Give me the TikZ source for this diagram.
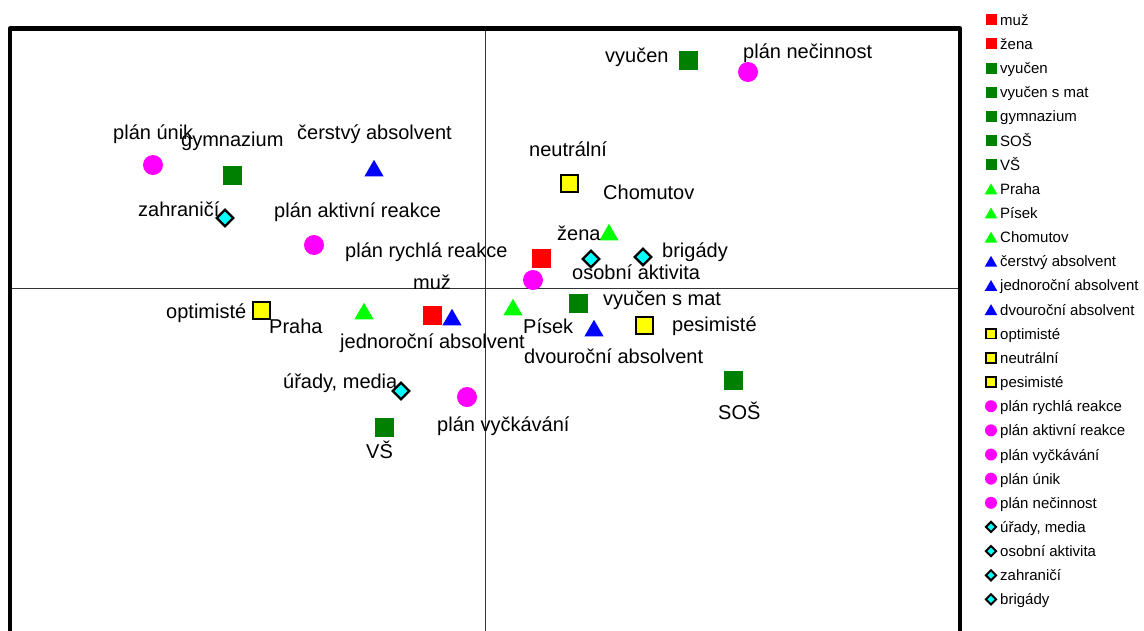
\documentclass[tikz,border=0pt]{standalone}
\usepackage{fontspec}
\setmainfont{Liberation Sans}
\usetikzlibrary{shapes.geometric}
\definecolor{cred}{RGB}{255,0,0}
\definecolor{dgreen}{RGB}{0,128,0}
\definecolor{lgreen}{RGB}{0,255,0}
\definecolor{cblue}{RGB}{0,0,255}
\definecolor{cyel}{RGB}{255,255,0}
\definecolor{cmag}{RGB}{255,0,255}
\definecolor{ccyan}{RGB}{0,255,255}
\begin{document}
\begin{tikzpicture}[x=1pt,y=-1pt,
  sq/.style={rectangle, minimum size=19, inner sep=0, fill=#1},
  tri/.style={regular polygon, regular polygon sides=3, minimum size=22, inner sep=0, fill=#1, yshift=-2.75pt},
  circ/.style={circle, minimum size=20, inner sep=0, fill=cmag},
  dia/.style={diamond, minimum width=17.5, minimum height=17.5, inner sep=0, fill=ccyan, draw=black, line width=2.4},
  ysq/.style={rectangle, minimum size=17, inner sep=0, fill=cyel, draw=black, line width=2},
  lab/.style={anchor=base west, inner sep=0, font=\fontsize{20}{24}\selectfont},
  lsq/.style={rectangle, minimum size=11, inner sep=0, fill=#1},
  ltri/.style={regular polygon, regular polygon sides=3, minimum size=14.5, inner sep=0, fill=#1, yshift=-1.8pt},
  lcirc/.style={circle, minimum size=12, inner sep=0, fill=cmag},
  ldia/.style={diamond, minimum width=11, minimum height=11, inner sep=0, fill=ccyan, draw=black, line width=2},
  lysq/.style={rectangle, minimum size=9.5, inner sep=0, fill=cyel, draw=black, line width=1.8},
  ltxt/.style={anchor=base west, inner sep=0, font=\fontsize{15}{18}\selectfont}
]
\useasboundingbox (0,0) rectangle (1144,630);
\fill[white] (0,0) rectangle (1144,630);
% axes
\draw[line width=1, black!80] (10,288.5) -- (960,288.5);
\draw[line width=1, black!80] (485.5,28.5) -- (485.5,640);
% frame
\draw[line width=4.5, line join=round] (10,640) -- (10,28.5) -- (960,28.5) -- (960,640);

% markers
\node[sq=cred] (muz) at (432,315) {};
\node[sq=cred] (zena) at (541,258) {};
\node[sq=dgreen] (vyucen) at (688,60) {};
\node[sq=dgreen] (vyucensmat) at (578,303) {};
\node[sq=dgreen] (gymnazium) at (232,175) {};
\node[sq=dgreen] (sos) at (733,380) {};
\node[sq=dgreen] (vs) at (384,427) {};
\node[tri=lgreen] (praha) at (364,311) {};
\node[tri=lgreen] (pisek) at (513,307) {};
\node[tri=lgreen] (chomutov) at (609,232) {};
\node[tri=cblue] (cerstvy) at (374,168) {};
\node[tri=cblue] (jednorocni) at (452,317) {};
\node[tri=cblue] (dvourocni) at (594,328) {};
\node[ysq] (optimiste) at (261,310) {};
\node[ysq] (neutralni) at (569,183) {};
\node[ysq] (pesimiste) at (644,325) {};
\node[circ] (rychla) at (533,280) {};
\node[circ] (aktivni) at (314,245) {};
\node[circ] (vyckavani) at (467,397) {};
\node[circ] (unik) at (153,165) {};
\node[circ] (necinnost) at (748,72) {};
\node[dia] (urady) at (401,391) {};
\node[dia] (osobni) at (591,259) {};
\node[dia] (zahranici) at (225,218) {};
\node[dia] (brigady) at (643,257) {};

% labels
\node[lab] (lmuz) at (413,289) {muž};
\node[lab] (lzena) at (557,240) {žena};
\node[lab] (lvyucen) at (605,62) {vyučen};
\node[lab] (lvyucensmat) at (603,305.5) {vyučen s mat};
\node[lab] (lgymnazium) at (181,146.5) {gymnazium};
\node[lab] (lsos) at (718,419) {SOŠ};
\node[lab] (lvs) at (366,458) {VŠ};
\node[lab] (lpraha) at (269,333) {Praha};
\node[lab] (lpisek) at (523,333) {Písek};
\node[lab] (lchomutov) at (603,199.5) {Chomutov};
\node[lab] (lcerstvy) at (297,139.5) {čerstvý absolvent};
\node[lab] (ljednorocni) at (340,348) {jednoroční absolvent};
\node[lab] (ldvourocni) at (524,363) {dvouroční absolvent};
\node[lab] (loptimiste) at (166,318) {optimisté};
\node[lab] (lneutralni) at (529,156) {neutrální};
\node[lab] (lpesimiste) at (672,331) {pesimisté};
\node[lab] (lrychla) at (345,257.5) {plán rychlá reakce};
\node[lab] (laktivni) at (274,217.5) {plán aktivní reakce};
\node[lab] (lvyckavani) at (437,431) {plán vyčkávání};
\node[lab] (lunik) at (113,139.5) {plán únik};
\node[lab] (lnecinnost) at (743,58) {plán nečinnost};
\node[lab] (lurady) at (283,388) {úřady, media};
\node[lab] (losobni) at (572,279.5) {osobní aktivita};
\node[lab] (lzahranici) at (138,216) {zahraničí};
\node[lab] (lbrigady) at (662,257.8) {brigády};

% legend
\node[lsq=cred] (k0) at (991,19.8) {};
\node[ltxt] (t0) at (1000,25.3) {muž};
\node[lsq=cred] (k1) at (991,43.95) {};
\node[ltxt] (t1) at (1000,49.45) {žena};
\node[lsq=dgreen] (k2) at (991,68.1) {};
\node[ltxt] (t2) at (1000,73.6) {vyučen};
\node[lsq=dgreen] (k3) at (991,92.25) {};
\node[ltxt] (t3) at (1000,97.75) {vyučen s mat};
\node[lsq=dgreen] (k4) at (991,116.4) {};
\node[ltxt] (t4) at (1000,121.9) {gymnazium};
\node[lsq=dgreen] (k5) at (991,140.55) {};
\node[ltxt] (t5) at (1000,146.05) {SOŠ};
\node[lsq=dgreen] (k6) at (991,164.7) {};
\node[ltxt] (t6) at (1000,170.2) {VŠ};
\node[ltri=lgreen] (k7) at (991,188.85) {};
\node[ltxt] (t7) at (1000,194.35) {Praha};
\node[ltri=lgreen] (k8) at (991,213) {};
\node[ltxt] (t8) at (1000,218.5) {Písek};
\node[ltri=lgreen] (k9) at (991,237.15) {};
\node[ltxt] (t9) at (1000,242.65) {Chomutov};
\node[ltri=cblue] (k10) at (991,261.3) {};
\node[ltxt] (t10) at (1000,266.8) {čerstvý absolvent};
\node[ltri=cblue] (k11) at (991,285.45) {};
\node[ltxt] (t11) at (1000,290.95) {jednoroční absolvent};
\node[ltri=cblue] (k12) at (991,309.6) {};
\node[ltxt] (t12) at (1000,315.1) {dvouroční absolvent};
\node[lysq] (k13) at (991,333.75) {};
\node[ltxt] (t13) at (1000,339.25) {optimisté};
\node[lysq] (k14) at (991,357.9) {};
\node[ltxt] (t14) at (1000,363.4) {neutrální};
\node[lysq] (k15) at (991,382.05) {};
\node[ltxt] (t15) at (1000,387.55) {pesimisté};
\node[lcirc] (k16) at (991,406.2) {};
\node[ltxt] (t16) at (1000,411.7) {plán rychlá reakce};
\node[lcirc] (k17) at (991,430.35) {};
\node[ltxt] (t17) at (1000,435.85) {plán aktivní reakce};
\node[lcirc] (k18) at (991,454.5) {};
\node[ltxt] (t18) at (1000,460) {plán vyčkávání};
\node[lcirc] (k19) at (991,478.65) {};
\node[ltxt] (t19) at (1000,484.15) {plán únik};
\node[lcirc] (k20) at (991,502.8) {};
\node[ltxt] (t20) at (1000,508.3) {plán nečinnost};
\node[ldia] (k21) at (991,526.95) {};
\node[ltxt] (t21) at (1000,532.45) {úřady, media};
\node[ldia] (k22) at (991,551.1) {};
\node[ltxt] (t22) at (1000,556.6) {osobní aktivita};
\node[ldia] (k23) at (991,575.25) {};
\node[ltxt] (t23) at (1000,580.75) {zahraničí};
\node[ldia] (k24) at (991,599.4) {};
\node[ltxt] (t24) at (1000,604.9) {brigády};
\end{tikzpicture}
\end{document}
